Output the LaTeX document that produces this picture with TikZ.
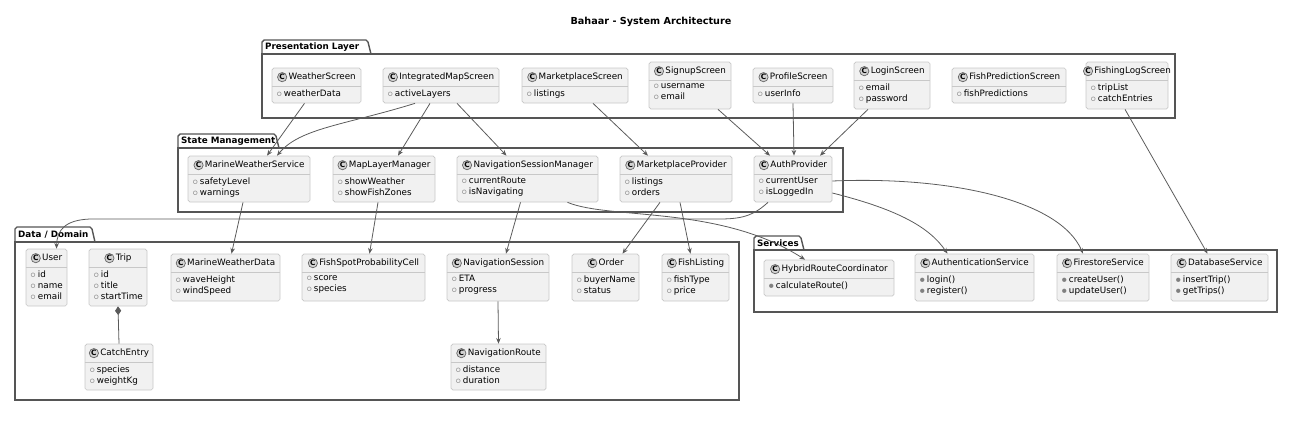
\documentclass[tikz,border=0pt]{standalone}
\usepackage{fontspec}
\setmainfont{DejaVu Sans}
\usetikzlibrary{fit,calc,arrows.meta}

\definecolor{boxfill}{HTML}{F1F1F1}
\definecolor{boxline}{HTML}{C8C8C8}
\definecolor{pkgline}{HTML}{555555}
\definecolor{edgecol}{HTML}{5A5A5A}

\newcommand\cmark{\tikz[baseline=-0.55ex]\node[circle,draw=gray!80!black,fill=gray!35,inner sep=0.3pt,font=\bfseries\fontsize{4.2}{4.5}\selectfont]{C};}
\newcommand\fld[1]{\textcolor{gray}{$\scriptscriptstyle\circ$}\,#1}
\newcommand\mtd[1]{\textcolor{gray}{$\scriptscriptstyle\bullet$}\,#1}

% id, x1, y1, x2, y2, title, members
\newcommand\umlclass[7]{%
  \node[classbox,fit={(#2,#3) (#4,#5)}] (#1) {};
  \draw[boxline] ($(#1.north west)+(0,19)$) -- ($(#1.north east)+(0,19)$);
  \node[font=\fontsize{5}{6}\selectfont] at ($(#1.north)+(0,9.5)$) {\cmark\,#6};
  \node[anchor=north west,align=left,inner sep=0pt,font=\fontsize{5}{6.3}\selectfont]
    at ($(#1.north west)+(4,21.5)$) {#7};
}
% id, x1, y1, x2, y2, tab right, tab top, name
\newcommand\umlpackage[8]{%
  \draw[pkgline,line width=0.8pt,fill=white] (#2,#3) -- (#2,#7+2) -- ++(2,-2) -- (#6-2,#7) -- ++(2,2) -- (#6+3,#3) -- cycle;
  \node[anchor=west,font=\bfseries\fontsize{5}{6}\selectfont,inner sep=1pt] at (#2+1,#7/2+#3/2+0.5) {#8};
  \node[pkgbox,fit={(#2,#3) (#4,#5)}] (#1) {};
}

\begin{document}
\begin{tikzpicture}[x=0.02cm,y=-0.02cm,
    classbox/.style={draw=boxline,fill=boxfill,rounded corners=1pt,inner sep=0pt},
    pkgbox/.style={draw=pkgline,line width=0.8pt,inner sep=0pt},
    dep/.style={draw=edgecol,line width=0.45pt,-{Stealth[length=3.2pt,width=2.6pt]}},
    comp/.style={draw=edgecol,line width=0.45pt,{Diamond[length=5pt,width=3.5pt]}-}]
  \useasboundingbox (0,0) rectangle (1302,430);

  \node[font=\bfseries\fontsize{5.5}{6}\selectfont] (title) at (651,22) {Bahaar - System Architecture};

  % packages
  \umlpackage{pres}{262}{54}{1175}{118}{368}{40}{Presentation Layer}
  \umlpackage{state}{178}{148}{843}{212}{276}{134}{State Management}
  \umlpackage{data}{15}{242}{739}{400}{92}{227}{Data / Domain}
  \umlpackage{serv}{754}{250}{1277}{312}{801}{236}{Services}

  % presentation layer
  \umlclass{weatherScr}{272}{68}{361}{103}{WeatherScreen}{\fld{weatherData}}
  \umlclass{mapScr}{383}{68}{499}{103}{IntegratedMapScreen}{\fld{activeLayers}}
  \umlclass{marketScr}{522}{68}{628}{103}{MarketplaceScreen}{\fld{listings}}
  \umlclass{signupScr}{649}{62}{731}{109}{SignupScreen}{\fld{username}\\\fld{email}}
  \umlclass{profileScr}{753}{68}{833}{103}{ProfileScreen}{\fld{userInfo}}
  \umlclass{loginScr}{854}{62}{930}{109}{LoginScreen}{\fld{email}\\\fld{password}}
  \umlclass{fishPredScr}{952}{68}{1066}{103}{FishPredictionScreen}{\fld{fishPredictions}}
  \umlclass{logScr}{1086}{62}{1168}{109}{FishingLogScreen}{\fld{tripList}\\\fld{catchEntries}}

  % state management
  \umlclass{weatherSvc}{188}{156}{310}{202}{MarineWeatherService}{\fld{safetyLevel}\\\fld{warnings}}
  \umlclass{layerMgr}{333}{156}{435}{202}{MapLayerManager}{\fld{showWeather}\\\fld{showFishZones}}
  \umlclass{navMgr}{457}{156}{598}{202}{NavigationSessionManager}{\fld{currentRoute}\\\fld{isNavigating}}
  \umlclass{marketProv}{620}{156}{732}{202}{MarketplaceProvider}{\fld{listings}\\\fld{orders}}
  \umlclass{authProv}{754}{156}{832}{202}{AuthProvider}{\fld{currentUser}\\\fld{isLoggedIn}}

  % data / domain
  \umlclass{user}{26}{249}{67}{306}{User}{\fld{id}\\\fld{name}\\\fld{email}}
  \umlclass{trip}{89}{249}{147}{306}{Trip}{\fld{id}\\\fld{title}\\\fld{startTime}}
  \umlclass{catch}{85}{344}{153}{390}{CatchEntry}{\fld{species}\\\fld{weightKg}}
  \umlclass{weatherData}{171}{254}{280}{301}{MarineWeatherData}{\fld{waveHeight}\\\fld{windSpeed}}
  \umlclass{fishCell}{302}{254}{425}{301}{FishSpotProbabilityCell}{\fld{score}\\\fld{species}}
  \umlclass{navSession}{447}{254}{549}{301}{NavigationSession}{\fld{ETA}\\\fld{progress}}
  \umlclass{navRoute}{451}{344}{546}{390}{NavigationRoute}{\fld{distance}\\\fld{duration}}
  \umlclass{order}{572}{254}{639}{301}{Order}{\fld{buyerName}\\\fld{status}}
  \umlclass{listing}{662}{254}{729}{301}{FishListing}{\fld{fishType}\\\fld{price}}

  % services
  \umlclass{routeCoord}{764}{260}{894}{296}{HybridRouteCoordinator}{\mtd{calculateRoute()}}
  \umlclass{authSvc}{915}{254}{1034}{301}{AuthenticationService}{\mtd{login()}\\\mtd{register()}}
  \umlclass{fireSvc}{1057}{254}{1149}{301}{FirestoreService}{\mtd{createUser()}\\\mtd{updateUser()}}
  \umlclass{dbSvc}{1171}{254}{1268}{301}{DatabaseService}{\mtd{insertTrip()}\\\mtd{getTrips()}}

  % dependencies
  \draw[dep] ($(weatherScr.south)+(-12,0)$) -- ($(weatherSvc.north)+(18,0)$);
  \draw[dep] ($(mapScr.south)+(-26,0)$) .. controls (345,125) and (300,128) .. ($(weatherSvc.north)+(28,0)$);
  \draw[dep] ($(mapScr.south)+(-11,0)$) -- ($(layerMgr.north)+(14,0)$);
  \draw[dep] ($(mapScr.south)+(16,0)$) -- ($(navMgr.north)+(-21,0)$);
  \draw[dep] ($(marketScr.south)+(18,0)$) -- ($(marketProv.north)+(-28,0)$);
  \draw[dep] ($(signupScr.south)+(28,0)$) -- ($(authProv.north)+(-23,0)$);
  \draw[dep] (profileScr.south) -- ($(authProv.north)+(1,0)$);
  \draw[dep] ($(loginScr.south)+(-24,0)$) -- ($(authProv.north)+(27,0)$);
  \draw[dep] ($(logScr.south)+(-2,0)$) -- ($(dbSvc.north)+(-12,0)$);
  \draw[dep] ($(weatherSvc.south)+(-6,0)$) -- ($(weatherData.north)+(6,0)$);
  \draw[dep] ($(layerMgr.south)+(-6,0)$) -- ($(fishCell.north)+(6,0)$);
  \draw[dep] ($(navMgr.south)+(-7,0)$) -- ($(navSession.north)+(8,0)$);
  \draw[dep] ($(marketProv.south)+(-16,0)$) -- ($(order.north)+(17,0)$);
  \draw[dep] ($(marketProv.south)+(4,0)$) -- ($(listing.north)+(-5,0)$);
  \draw[dep] (navSession.south) -- (navRoute.north);
  \draw[dep] ($(navMgr.south)+(40,0)$) .. controls (610,220) and (720,205) .. ($(routeCoord.north)+(-24,0)$);
  \draw[dep] ($(authProv.south)+(-25,0)$) .. controls (755,214) and (745,219) .. (720,219)
    -- (90,219) .. controls (65,220) and (57,230) .. ($(user.north)+(10,0)$);
  \draw[dep] ($(authProv.east)+(0,14)$) .. controls (900,210) and (930,228) .. ($(authSvc.north)+(-27,0)$);
  \draw[dep] ($(authProv.east)+(0,2)$) .. controls (950,176) and (1060,200) .. ($(fireSvc.north)+(-20,0)$);
  \draw[comp] (trip.south) -- (catch.north);
\end{tikzpicture}
\end{document}
